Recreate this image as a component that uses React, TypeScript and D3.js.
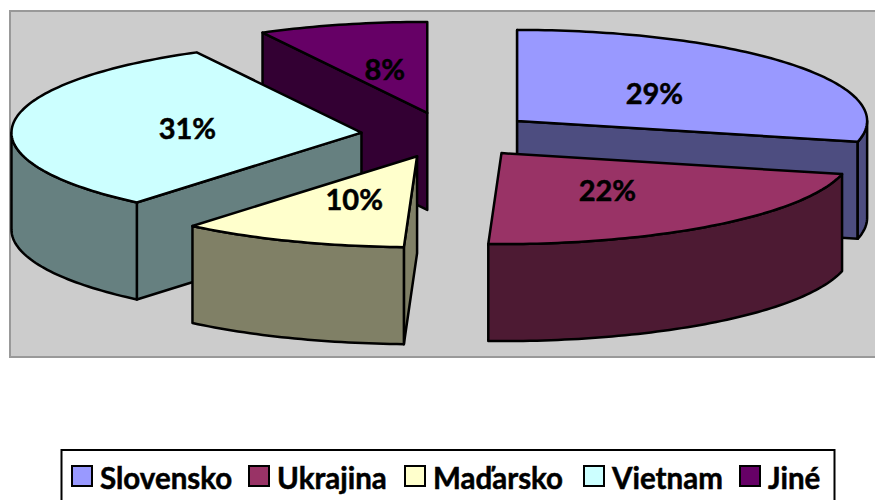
import React from 'react';
import * as d3 from 'd3';

// Data
const countries = ['Slovensko', 'Ukrajina', 'Maďarsko', 'Vietnam', 'Jiné'];
const shares = [28.7, 21.9, 10.49, 31.11, 7.8];
const colors = ['#9999FF', '#993366', '#FFFFCC', '#CCFFFF', '#660066'];

// Back slices first, so the front ones cover them
const drawOrder = [4, 3, 2, 0, 1];

// Pie geometry
const width = 875;
const height = 500;
const center = { x: 448.5, y: 135 };
const radiusX = 350;
const radiusY = 91;
const depth = 97;
const explode = 0.25;

// Label spots, as a fraction of the radius along the slice middle
const labelAt = 0.5;

const pie = d3.pie<number>().sort(null).value(d => d);
const slices = pie(shares);

const line = d3.line();
const project = (cx: number, cy: number, a: number, r = 1): [number, number] => [
  cx + radiusX * r * Math.sin(a),
  cy - radiusY * r * Math.cos(a),
];

const arcPoints = (cx: number, cy: number, a0: number, a1: number) => {
  const n = Math.max(2, Math.ceil((a1 - a0) / 0.02));
  return d3.range(n + 1).map(i => project(cx, cy, a0 + ((a1 - a0) * i) / n));
};

const Slice = ({ index }: { index: number }) => {
  const s = slices[index];
  const mid = (s.startAngle + s.endAngle) / 2;
  const [cx, cy] = project(center.x, center.y, mid, explode);
  const top = colors[index];
  const side = d3.interpolateRgb(top, '#000')(0.5);

  const rim = arcPoints(cx, cy, s.startAngle, s.endAngle);
  const first = rim[0];
  const last = rim[rim.length - 1];

  // Cut face between the apex and one end of the rim
  const face = (p: [number, number]) =>
    line([[cx, cy], p, [p[0], p[1] + depth], [cx, cy + depth]]) + 'Z';
  // A cut face shows only when the wall hangs on the far side of the top
  const showStart = Math.sin(s.startAngle) <= 1e-9;
  const showEnd = Math.sin(s.endAngle) > 1e-9;

  // Outer wall, only the part that faces the viewer
  const a0 = Math.max(s.startAngle, Math.PI / 2);
  const a1 = Math.min(s.endAngle, (3 * Math.PI) / 2);
  let wall: string | null = null;
  if (a1 > a0) {
    const upper = arcPoints(cx, cy, a0, a1);
    const lower = upper.map(p => [p[0], p[1] + depth] as [number, number]).reverse();
    wall = line([...upper, ...lower]) + 'Z';
  }

  const stroke = { stroke: '#000', strokeWidth: 2.5, strokeLinejoin: 'round' as const };
  return (
    <g>
      {showStart && <path d={face(first)} fill={side} {...stroke} />}
      {showEnd && <path d={face(last)} fill={side} {...stroke} />}
      {wall && <path d={wall} fill={side} {...stroke} />}
      <path d={line([[cx, cy], ...rim]) + 'Z'} fill={top} {...stroke} />
    </g>
  );
};

const Label = ({ index }: { index: number }) => {
  const s = slices[index];
  const mid = (s.startAngle + s.endAngle) / 2;
  const [cx, cy] = project(center.x, center.y, mid, explode);
  const [x, y] = project(cx, cy, mid, labelAt);
  return (
    <text x={x} y={y} textAnchor="middle" dominantBaseline="central"
      fontFamily="Lato, sans-serif" fontWeight="700" fontSize="29" fill="#000"
      stroke="#000" strokeWidth={0.5}>
      {Math.round(s.data)}%
    </text>
  );
};

// Legend
const legendSwatch = 20;
const legendY = 476;
const legendX = [72, 249, 405, 584, 740];

const App = () => (
  <svg width={width} height={height} style={{ position: 'absolute', left: 0, top: 0 }}>
    <rect x={0} y={0} width={width} height={height} fill="#fff" />
    <rect x={10} y={11} width={875} height={346} fill="#CCCCCC" stroke="#999" strokeWidth={2} />
    {drawOrder.map(i => <Slice key={i} index={i} />)}
    {drawOrder.map(i => <Label key={i} index={i} />)}
    <rect x={61.5} y={450} width={773} height={60} fill="#fff" stroke="#000" strokeWidth={2} />
    {countries.map((c, i) => (
      <g key={c}>
        <rect x={legendX[i]} y={legendY - legendSwatch / 2} width={legendSwatch} height={legendSwatch}
          fill={colors[i]} stroke="#000" strokeWidth={2} />
        <text x={legendX[i] + legendSwatch + 8} y={legendY + 1} dominantBaseline="central"
          fontFamily="Lato, sans-serif" fontWeight="700" fontSize="29.5" fill="#000"
          stroke="#000" strokeWidth={0.5}>
          {c}
        </text>
      </g>
    ))}
  </svg>
);

export default App;
